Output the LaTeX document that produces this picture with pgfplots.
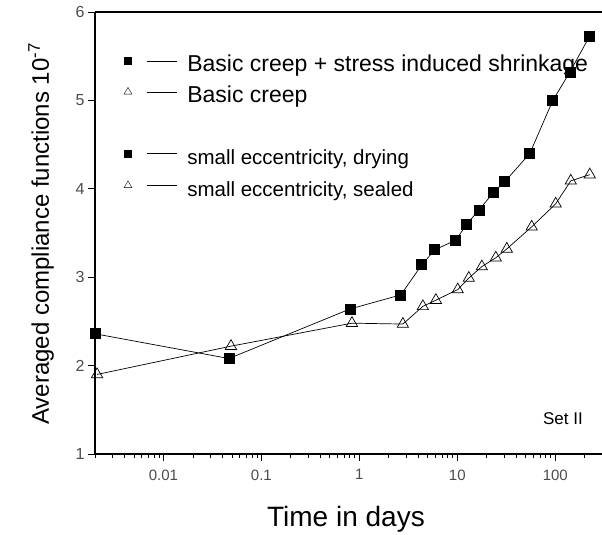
\documentclass[border=0pt]{standalone}
\usepackage{pgfplots}
\pgfplotsset{compat=1.18}
\usepackage{fontspec}
\setmainfont{Liberation Sans}

\pgfplotstableread{
x       y
0.002   2.36
0.0466  2.08
0.80    2.64
2.65    2.80
4.34    3.14
5.89    3.31
9.66    3.42
12.5    3.60
16.6    3.76
23.5    3.96
30.5    4.08
55.0    4.40
94.4    5.00
141     5.32
225     5.73
}\drying

\pgfplotstableread{
x       y
0.0021  1.90
0.0489  2.22
0.84    2.48
2.78    2.47
4.45    2.67
6.04    2.74
10.1    2.86
13.1    2.99
17.8    3.12
24.7    3.22
32.0    3.32
57.5    3.57
101     3.83
144     4.09
225     4.16
}\sealed

\newcommand{\bigent}[1]{\fontsize{23}{23}\selectfont\rule[-14pt]{0pt}{37pt}#1}
\newcommand{\smallent}[1]{\fontsize{20.5}{20.5}\selectfont\rule[-15pt]{0pt}{39pt}#1}

\begin{document}
\begin{tikzpicture}
\useasboundingbox (-95pt,-81pt) rectangle (507pt,454pt);
\begin{semilogxaxis}[
  scale only axis,
  width=507pt, height=442pt,
  xmin=0.002, xmax=300,
  ymin=1, ymax=6,
  ytick={1,2,3,4,5,6},
  xtick={0.01,0.1,1,10,100},
  xticklabels={0.01,0.1,1,10,100},
  minor xtick={0.002,0.003,0.004,0.005,0.006,0.007,0.008,0.009,
               0.02,0.03,0.04,0.05,0.06,0.07,0.08,0.09,
               0.2,0.3,0.4,0.5,0.6,0.7,0.8,0.9,
               2,3,4,5,6,7,8,9,
               20,30,40,50,60,70,80,90,200,300},
  axis x line=box, axis y line=left,
  axis line style={-, line width=1.2pt},
  xtick pos=bottom, ytick pos=left,
  tick align=outside,
  major tick length=7pt, minor tick length=4pt,
  every tick/.style={black, line width=0.8pt},
  xticklabel style={font=\fontsize{15}{15}\selectfont, text=black!70, yshift=-5pt},
  yticklabel style={font=\fontsize{16}{16}\selectfont, text=black!70},
  /pgf/number format/assume math mode=true,
  xlabel={Time in days},
  ylabel={Averaged compliance functions 10\textsuperscript{-7}},
  every axis x label/.style={at={(axis description cs:0.495,0)}, anchor=base, yshift=-72pt,
    font=\fontsize{28}{28}\selectfont},
  every axis y label/.style={at={(axis description cs:-0.1065,0.498)}, anchor=center, rotate=90,
    font=\fontsize{24}{24}\selectfont},
  legend style={draw=none, fill=none, inner sep=0pt,
    at={(axis description cs:0.057,0.922)}, anchor=north west,
    row sep=2.5pt, column sep=8pt, cells={anchor=west}},
  legend image code/.code={%
    \path[draw=none, fill=none] (0pt,-7pt) rectangle (0pt,7pt);
    \draw[#1] plot coordinates {(0pt,0pt)};
    \draw[#1, mark=none, line width=0.6pt] (19pt,0pt) -- (49pt,0pt);
  },
]
\addplot[black, line width=0.7pt, mark=square*, mark size=5pt, forget plot] table {\drying};
\addplot[black, line width=0.7pt, mark=triangle, mark size=6.5pt, mark options={fill=white, line width=0.7pt}, forget plot] table {\sealed};

\addlegendimage{black, mark=square*, mark size=3.5pt}
\addlegendentry{\bigent{Basic creep + stress induced shrinkage}}
\addlegendimage{black, mark=triangle, mark size=4.5pt, mark options={fill=white}}
\addlegendentry{\bigent{Basic creep}}
\addlegendimage{empty legend}
\addlegendentry{\rule{0pt}{22pt}}
\addlegendimage{black, mark=square*, mark size=3.5pt}
\addlegendentry{\smallent{small eccentricity, drying}}
\addlegendimage{black, mark=triangle, mark size=4.5pt, mark options={fill=white}}
\addlegendentry{\smallent{small eccentricity, sealed}}

\node[anchor=center, font=\fontsize{17}{17}\selectfont] at (axis description cs:0.923,0.079) {Set II};
\end{semilogxaxis}
\end{tikzpicture}
\end{document}
